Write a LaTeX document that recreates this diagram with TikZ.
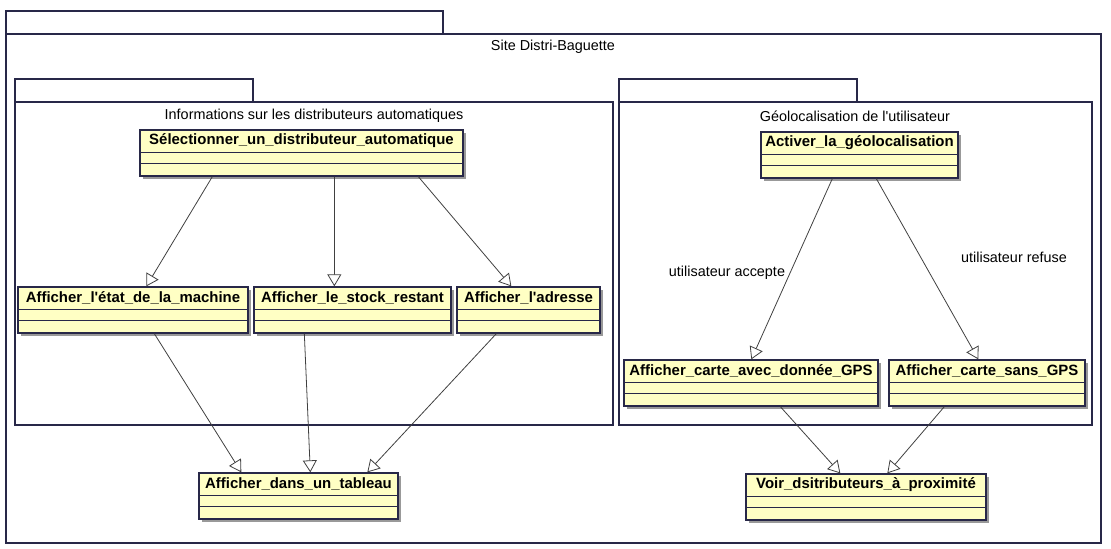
\documentclass[tikz,border=0pt]{standalone}
\usepackage{fontspec}
\newfontfamily\umlfont{Liberation Sans}
\usetikzlibrary{arrows.meta,calc,fit,shadows}

\definecolor{framecol}{RGB}{40,40,72}
\definecolor{classfill}{RGB}{255,255,196}
\definecolor{linecol}{RGB}{64,64,64}

\tikzset{
  frame/.style={draw=framecol, line width=0.9pt},
  frametitle/.style={font=\umlfont\fontsize{10.8}{12}\selectfont, inner sep=0pt},
  classbox/.style={draw=framecol, fill=classfill, line width=1pt, inner sep=0pt,
    drop shadow={shadow xshift=2.2pt, shadow yshift=-2.2pt, fill=black!40, opacity=1}},
  classname/.style={font=\umlfont\bfseries\fontsize{11.2}{12}\selectfont, inner sep=0pt},
  classline/.style={draw=framecol, line width=1pt},
  conn/.style={draw=linecol, line width=0.6pt,
    -{Triangle[length=9pt, width=10.5pt, fill=white]}},
  condlabel/.style={font=\umlfont\fontsize{10.8}{12}\selectfont, inner sep=0pt},
}

% UML class: name, corner, corner, title
\newcommand\umlclass[6]{%
  \node[classbox, fit={(#2,#3) (#4,#5)}] (#1) {};
  \node[classname] (#1-title) at ($(#1.north)+(0,11.5)$) {#6};
  \draw[classline] ($(#1.north west)+(0,23)$) -- ($(#1.north east)+(0,23)$);
  \draw[classline] ($(#1.north west)+(0,34)$) -- ($(#1.north east)+(0,34)$);
}

\begin{document}
\begin{tikzpicture}[x=0.75pt, y=-0.75pt]
\useasboundingbox (0,0) rectangle (1111,549);

% outer package
\draw[frame] (6,11) rectangle (443,34);
\draw[frame] (6,34) rectangle (1101,543);
\node[frametitle] (site) at (553,47) {Site Distri-Baguette};

% package: distributeurs
\draw[frame] (15,79) rectangle (253,102);
\draw[frame] (15,102) rectangle (613,425);
\node[frametitle] (infos) at (314,116) {Informations sur les distributeurs automatiques};

% package: geolocalisation
\draw[frame] (619,79) rectangle (857,102);
\draw[frame] (619,102) rectangle (1092,425);
\node[frametitle] (geo) at (855,116) {Géolocalisation de l'utilisateur};

% classes
\umlclass{sel}{140}{130}{463}{176}{Sélectionner\_un\_distributeur\_automatique}
\umlclass{etat}{18}{287}{248}{333}{Afficher\_l'état\_de\_la\_machine}
\umlclass{stock}{254}{287}{451}{333}{Afficher\_le\_stock\_restant}
\umlclass{adr}{457}{287}{600}{333}{Afficher\_l'adresse}
\umlclass{tab}{199}{473}{398}{519}{Afficher\_dans\_un\_tableau}
\umlclass{act}{761}{132}{958}{178}{Activer\_la\_géolocalisation}
\umlclass{avec}{624}{360}{878}{406}{Afficher\_carte\_avec\_donnée\_GPS}
\umlclass{sans}{889}{360}{1085}{406}{Afficher\_carte\_sans\_GPS}
\umlclass{voir}{746}{474}{986}{520}{Voir\_dsitributeurs\_à\_proximité}

% connectors
\draw[conn] ($(sel.south west)+(73,0)$) -- ($(etat.north west)+(129,0)$);
\draw[conn] ($(sel.south west)+(195,0)$) -- ($(stock.north west)+(81,0)$);
\draw[conn] ($(sel.south west)+(279,0)$) -- ($(adr.north west)+(55,0)$);

\draw[conn] ($(etat.south west)+(137,0)$) -- ($(tab.north west)+(43,0)$);
\draw[conn] ($(stock.south west)+(51,0)$) -- ($(tab.north west)+(112,0)$);
\draw[conn] ($(adr.south west)+(40,0)$) -- ($(tab.north west)+(169,0)$);

\draw[conn] ($(act.south west)+(72,0)$) -- ($(avec.north west)+(128,0)$);
\draw[conn] ($(act.south west)+(116,0)$) -- ($(sans.north west)+(90,0)$);

\draw[conn] ($(avec.south west)+(157,0)$) -- ($(voir.north west)+(95,0)$);
\draw[conn] ($(sans.south west)+(56,0)$) -- ($(voir.north west)+(142,0)$);

% guard labels
\node[condlabel] (accepte) at (727,273) {utilisateur accepte};
\node[condlabel] (refuse) at (1014,257) {utilisateur refuse};
\end{tikzpicture}
\end{document}
